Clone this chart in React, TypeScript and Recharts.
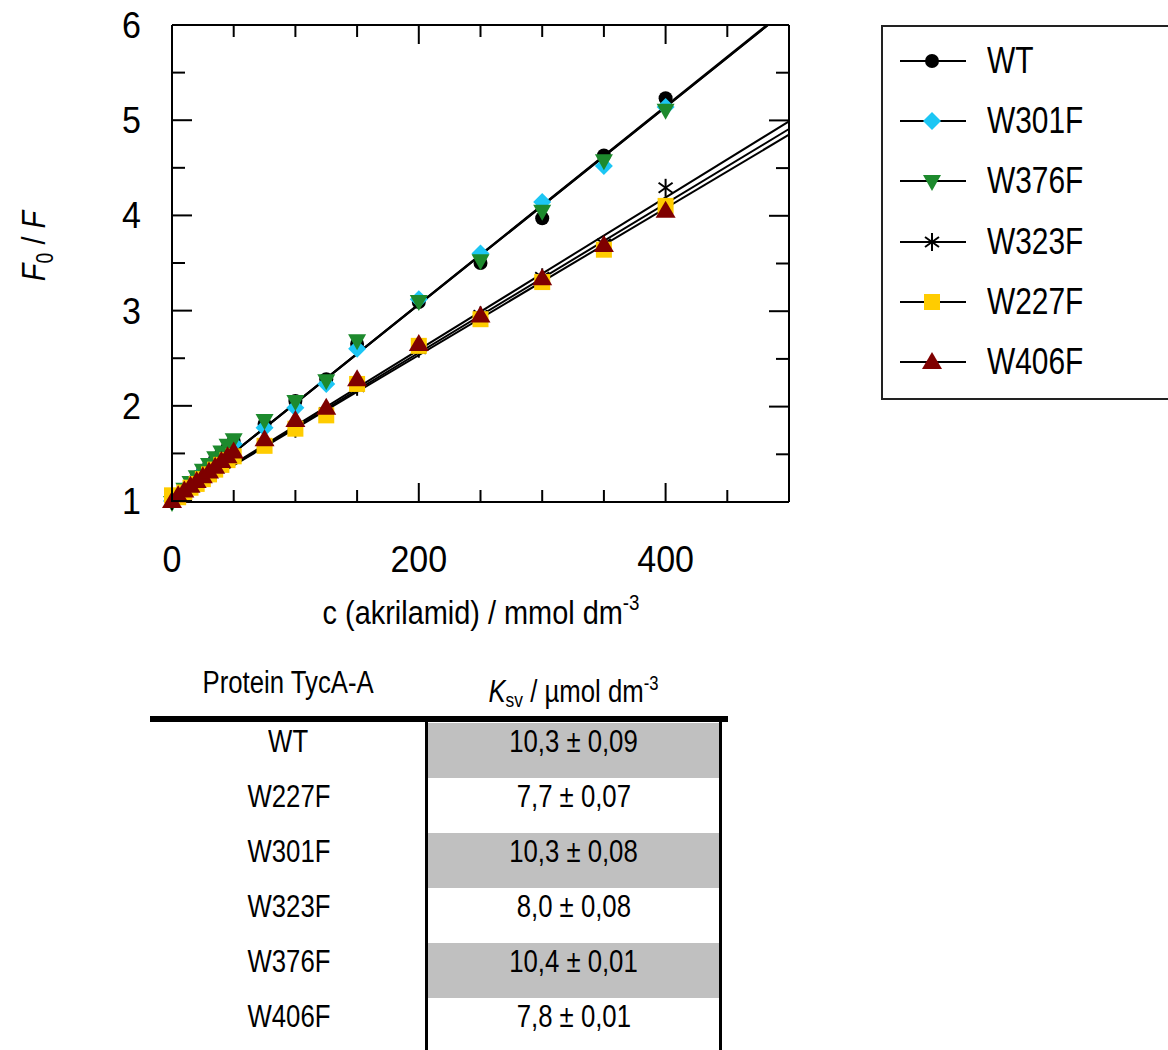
import React from 'react'
import { ScatterChart, Scatter, XAxis, YAxis, Legend } from 'recharts'

// acrylamide concentration, mmol dm-3
const conc = [0, 5, 10, 15, 20, 25, 30, 35, 40, 45, 50, 75, 100, 125, 150, 200, 250, 300, 350, 400]

// F0/F
const wtVals = [1.0, 1.06, 1.12, 1.19, 1.25, 1.31, 1.37, 1.44, 1.5, 1.56, 1.63, 1.81, 2.05, 2.28, 2.65, 3.09, 3.5, 3.97, 4.63, 5.23]
const w301fVals = [1.0, 1.06, 1.12, 1.18, 1.24, 1.3, 1.36, 1.42, 1.48, 1.54, 1.6, 1.77, 1.98, 2.23, 2.6, 3.12, 3.6, 4.14, 4.52, 5.14]
const w376fVals = [0.99, 1.07, 1.13, 1.2, 1.26, 1.33, 1.39, 1.46, 1.52, 1.59, 1.65, 1.85, 2.05, 2.27, 2.69, 3.1, 3.53, 4.05, 4.58, 5.11]
const w323fVals = [1.0, 1.05, 1.1, 1.15, 1.2, 1.25, 1.3, 1.35, 1.4, 1.45, 1.5, 1.6, 1.76, 1.93, 2.2, 2.6, 2.95, 3.35, 3.7, 4.29]
const w227fVals = [1.06, 1.04, 1.09, 1.14, 1.18, 1.23, 1.28, 1.33, 1.38, 1.43, 1.47, 1.58, 1.76, 1.9, 2.23, 2.63, 2.91, 3.3, 3.64, 4.1]
const w406fVals = [1.0, 1.06, 1.11, 1.16, 1.21, 1.26, 1.31, 1.36, 1.42, 1.47, 1.52, 1.65, 1.85, 1.98, 2.28, 2.65, 2.95, 3.34, 3.69, 4.05]

// fitted lines: start and end points
const fitWT = [{ x: 0, y: 1 }, { x: 483, y: 6 }]
const fitW301F = [{ x: 0, y: 1 }, { x: 483, y: 6 }]
const fitW376F = [{ x: 0, y: 1 }, { x: 482, y: 6 }]
const fitW323F = [{ x: 0, y: 1 }, { x: 500, y: 4.99 }]
const fitW227F = [{ x: 0, y: 1 }, { x: 500, y: 4.85 }]
const fitW406F = [{ x: 0, y: 1 }, { x: 500, y: 4.91 }]

const xTicks = [0, 50, 100, 150, 200, 250, 300, 350, 400, 450, 500]
const xLabels = [0, 200, 400]
const yTicks = [1, 1.5, 2, 2.5, 3, 3.5, 4, 4.5, 5, 5.5, 6]
const yLabels = [1, 2, 3, 4, 5, 6]

// table below the chart
const tableProteins = ['WT', 'W227F', 'W301F', 'W323F', 'W376F', 'W406F']
const tableKsv = ['10,3 ± 0,09', '7,7 ± 0,07', '10,3 ± 0,08', '8,0 ± 0,08', '10,4 ± 0,01', '7,8 ± 0,01']

const FONT = '"Liberation Sans", Arial, sans-serif'

type Kind = 'circle' | 'diamond' | 'down' | 'star' | 'square' | 'up'

const series: { name: string; kind: Kind; color: string; vals: number[]; fit: { x: number; y: number }[] }[] = [
  { name: 'WT', kind: 'circle', color: '#000000', vals: wtVals, fit: fitWT },
  { name: 'W301F', kind: 'diamond', color: '#1cc6f4', vals: w301fVals, fit: fitW301F },
  { name: 'W376F', kind: 'down', color: '#1d8a2d', vals: w376fVals, fit: fitW376F },
  { name: 'W323F', kind: 'star', color: '#000000', vals: w323fVals, fit: fitW323F },
  { name: 'W227F', kind: 'square', color: '#ffcc00', vals: w227fVals, fit: fitW227F },
  { name: 'W406F', kind: 'up', color: '#7f0000', vals: w406fVals, fit: fitW406F },
]

// the source figure uses a condensed face; squeeze the regular one
const narrow = (origin: string): React.CSSProperties => ({
  display: 'inline-block',
  transform: 'scaleX(0.83)',
  transformOrigin: origin,
})

function Marker({ kind, color, cx, cy }: { kind: Kind; color: string; cx: number; cy: number }) {
  switch (kind) {
    case 'circle':
      return <circle cx={cx} cy={cy} r={7} fill={color} />
    case 'diamond':
      return <polygon points={`${cx},${cy - 9} ${cx + 9},${cy} ${cx},${cy + 9} ${cx - 9},${cy}`} fill={color} />
    case 'down':
      return <polygon points={`${cx - 9},${cy - 6} ${cx + 9},${cy - 6} ${cx},${cy + 10}`} fill={color} />
    case 'up':
      return <polygon points={`${cx - 10},${cy + 7} ${cx + 10},${cy + 7} ${cx},${cy - 10}`} fill={color} />
    case 'square':
      return <rect x={cx - 8} y={cy - 8} width={16} height={16} fill={color} />
    case 'star':
      return (
        <g stroke={color} strokeWidth={2}>
          <line x1={cx} y1={cy - 9} x2={cx} y2={cy + 9} />
          <line x1={cx - 7} y1={cy - 5} x2={cx + 7} y2={cy + 5} />
          <line x1={cx - 7} y1={cy + 5} x2={cx + 7} y2={cy - 5} />
        </g>
      )
  }
  return null
}

function BottomTick(props: any) {
  const { x, y, payload } = props
  const major = xLabels.includes(payload.value)
  return (
    <g>
      <line x1={x} x2={x} y1={y} y2={y - (major ? 19 : 12)} stroke="#000" strokeWidth={2} />
      {major ? (
        <text
          transform={`translate(${x},${y + 70}) scale(0.92,1)`}
          textAnchor="middle"
          fontSize={37}
          fontFamily={FONT}
          fill="#000"
        >
          {payload.value}
        </text>
      ) : null}
    </g>
  )
}

function TopTick(props: any) {
  const { x, y, payload } = props
  const major = xLabels.includes(payload.value)
  return <line x1={x} x2={x} y1={y} y2={y + (major ? 19 : 12)} stroke="#000" strokeWidth={2} />
}

function LeftTick(props: any) {
  const { x, y, payload } = props
  const major = yLabels.includes(payload.value)
  return (
    <g>
      <line x1={x} x2={x + (major ? 20 : 13)} y1={y} y2={y} stroke="#000" strokeWidth={2} />
      {major ? (
        <text
          transform={`translate(${x - 31},${y + 13}) scale(0.92,1)`}
          textAnchor="end"
          fontSize={37}
          fontFamily={FONT}
          fill="#000"
        >
          {payload.value}
        </text>
      ) : null}
    </g>
  )
}

function RightTick(props: any) {
  const { x, y, payload } = props
  const major = yLabels.includes(payload.value)
  return <line x1={x} x2={x - (major ? 20 : 13)} y1={y} y2={y} stroke="#000" strokeWidth={2} />
}

function YTitle() {
  return (
    <text
      transform="translate(45,246) rotate(-90) scale(0.85,1)"
      textAnchor="middle"
      fontSize={34}
      fontFamily={FONT}
      fill="#000"
    >
      <tspan fontStyle="italic">F</tspan>
      <tspan fontSize={23} dy={8}>0</tspan>
      <tspan dy={-8}> / </tspan>
      <tspan fontStyle="italic">F</tspan>
    </text>
  )
}

function XTitle() {
  return (
    <text
      transform="translate(481,624) scale(0.85,1)"
      textAnchor="middle"
      fontSize={34}
      fontFamily={FONT}
      fill="#000"
    >
      c (akrilamid) / mmol dm
      <tspan fontSize={22} dy={-14}>-3</tspan>
    </text>
  )
}

function LegendBox() {
  return (
    <div
      style={{
        position: 'relative',
        width: 300,
        height: 371,
        border: '2px solid #222',
        background: '#fff',
        fontFamily: FONT,
      }}
    >
      {series.map((s, i) => {
        const cy = 34 + i * 60.2
        return (
          <div key={s.name} style={{ position: 'absolute', left: 0, top: cy - 20, height: 40, width: 300 }}>
            <svg width={100} height={40} style={{ position: 'absolute', left: 0, top: 0 }}>
              <line x1={17} x2={83} y1={20} y2={20} stroke="#000" strokeWidth={2} />
              <Marker kind={s.kind} color={s.color} cx={49} cy={20} />
            </svg>
            <span
              style={{
                position: 'absolute',
                left: 104,
                top: 0,
                lineHeight: '40px',
                fontSize: 36,
                color: '#000',
                whiteSpace: 'nowrap',
              }}
            >
              <span style={narrow('left center')}>{s.name}</span>
            </span>
          </div>
        )
      })}
    </div>
  )
}

function KsvTable() {
  const cell = { position: 'absolute' as const, textAlign: 'center' as const, fontSize: 31, color: '#000', whiteSpace: 'nowrap' as const }
  return (
    <>
      <div style={{ ...cell, left: 150, width: 277, top: 663, lineHeight: '40px' }}>
        <span style={narrow('center')}>Protein TycA-A</span>
      </div>
      <div style={{ ...cell, left: 427, width: 293, top: 663, lineHeight: '40px' }}>
        <span style={narrow('center')}>
          <i>K</i>
          <span style={{ fontSize: 21, verticalAlign: -5 }}>sv</span> / µmol dm
          <span style={{ fontSize: 20, verticalAlign: 12 }}>-3</span>
        </span>
      </div>
      <div style={{ position: 'absolute', left: 150, top: 716, width: 578, height: 6, background: '#000' }} />
      {tableProteins.map((p, i) => {
        const top = 723 + i * 55
        return (
          <React.Fragment key={p}>
            {i % 2 === 0 ? (
              <div style={{ position: 'absolute', left: 428, top, width: 291, height: 55, background: '#c0c0c0' }} />
            ) : null}
            <div style={{ ...cell, left: 150, width: 277, top: top - 1, lineHeight: '40px' }}>
              <span style={narrow('center')}>{p}</span>
            </div>
            <div style={{ ...cell, left: 427, width: 293, top: top - 1, lineHeight: '40px' }}>
              <span style={narrow('center')}>{tableKsv[i]}</span>
            </div>
          </React.Fragment>
        )
      })}
      <div style={{ position: 'absolute', left: 425, top: 720, width: 3, height: 330, background: '#000' }} />
      <div style={{ position: 'absolute', left: 719, top: 720, width: 3, height: 330, background: '#000' }} />
    </>
  )
}

export default function App() {
  return (
    <div
      style={{
        position: 'absolute',
        left: 0,
        top: 0,
        width: 1168,
        height: 1050,
        overflow: 'hidden',
        background: '#fff',
        fontFamily: FONT,
      }}
    >
      <ScatterChart width={1168} height={640} margin={{ top: 24, right: 378, bottom: 0, left: 0 }}>
        <XAxis
          xAxisId="b"
          type="number"
          dataKey="x"
          domain={[0, 500]}
          ticks={xTicks}
          interval={0}
          height={138}
          tickSize={0}
          tickMargin={0}
          tickLine={false}
          axisLine={{ stroke: '#000', strokeWidth: 2 }}
          tick={<BottomTick />}
          label={<XTitle />}
        />
        <XAxis
          xAxisId="t"
          orientation="top"
          type="number"
          dataKey="x"
          domain={[0, 500]}
          ticks={xTicks}
          interval={0}
          height={1}
          tickSize={0}
          tickMargin={0}
          tickLine={false}
          axisLine={{ stroke: '#000', strokeWidth: 2 }}
          tick={<TopTick />}
        />
        <YAxis
          yAxisId="l"
          type="number"
          dataKey="y"
          domain={[1, 6]}
          ticks={yTicks}
          interval={0}
          width={172}
          tickSize={0}
          tickMargin={0}
          tickLine={false}
          axisLine={{ stroke: '#000', strokeWidth: 2 }}
          tick={<LeftTick />}
          label={<YTitle />}
        />
        <YAxis
          yAxisId="r"
          orientation="right"
          type="number"
          dataKey="y"
          domain={[1, 6]}
          ticks={yTicks}
          interval={0}
          width={1}
          tickSize={0}
          tickMargin={0}
          tickLine={false}
          axisLine={{ stroke: '#000', strokeWidth: 2 }}
          tick={<RightTick />}
        />
        <Legend
          layout="vertical"
          align="center"
          verticalAlign="middle"
          wrapperStyle={{ left: 881, top: 25, width: 304, height: 375 }}
          content={<LegendBox />}
        />
        {series.map((s) => (
          <Scatter
            key={`fit-${s.name}`}
            xAxisId="t"
            yAxisId="r"
            data={s.fit}
            line={{ stroke: '#000', strokeWidth: 2 }}
            shape={() => <g />}
            legendType="none"
            isAnimationActive={false}
          />
        ))}
        {series.map((s) => (
          <Scatter
            key={s.name}
            name={s.name}
            xAxisId="b"
            yAxisId="l"
            data={conc.map((c, i) => ({ x: c, y: s.vals[i] }))}
            shape={(p: any) => <Marker kind={s.kind} color={s.color} cx={p.cx} cy={p.cy} />}
            isAnimationActive={false}
          />
        ))}
      </ScatterChart>
      <KsvTable />
    </div>
  )
}
